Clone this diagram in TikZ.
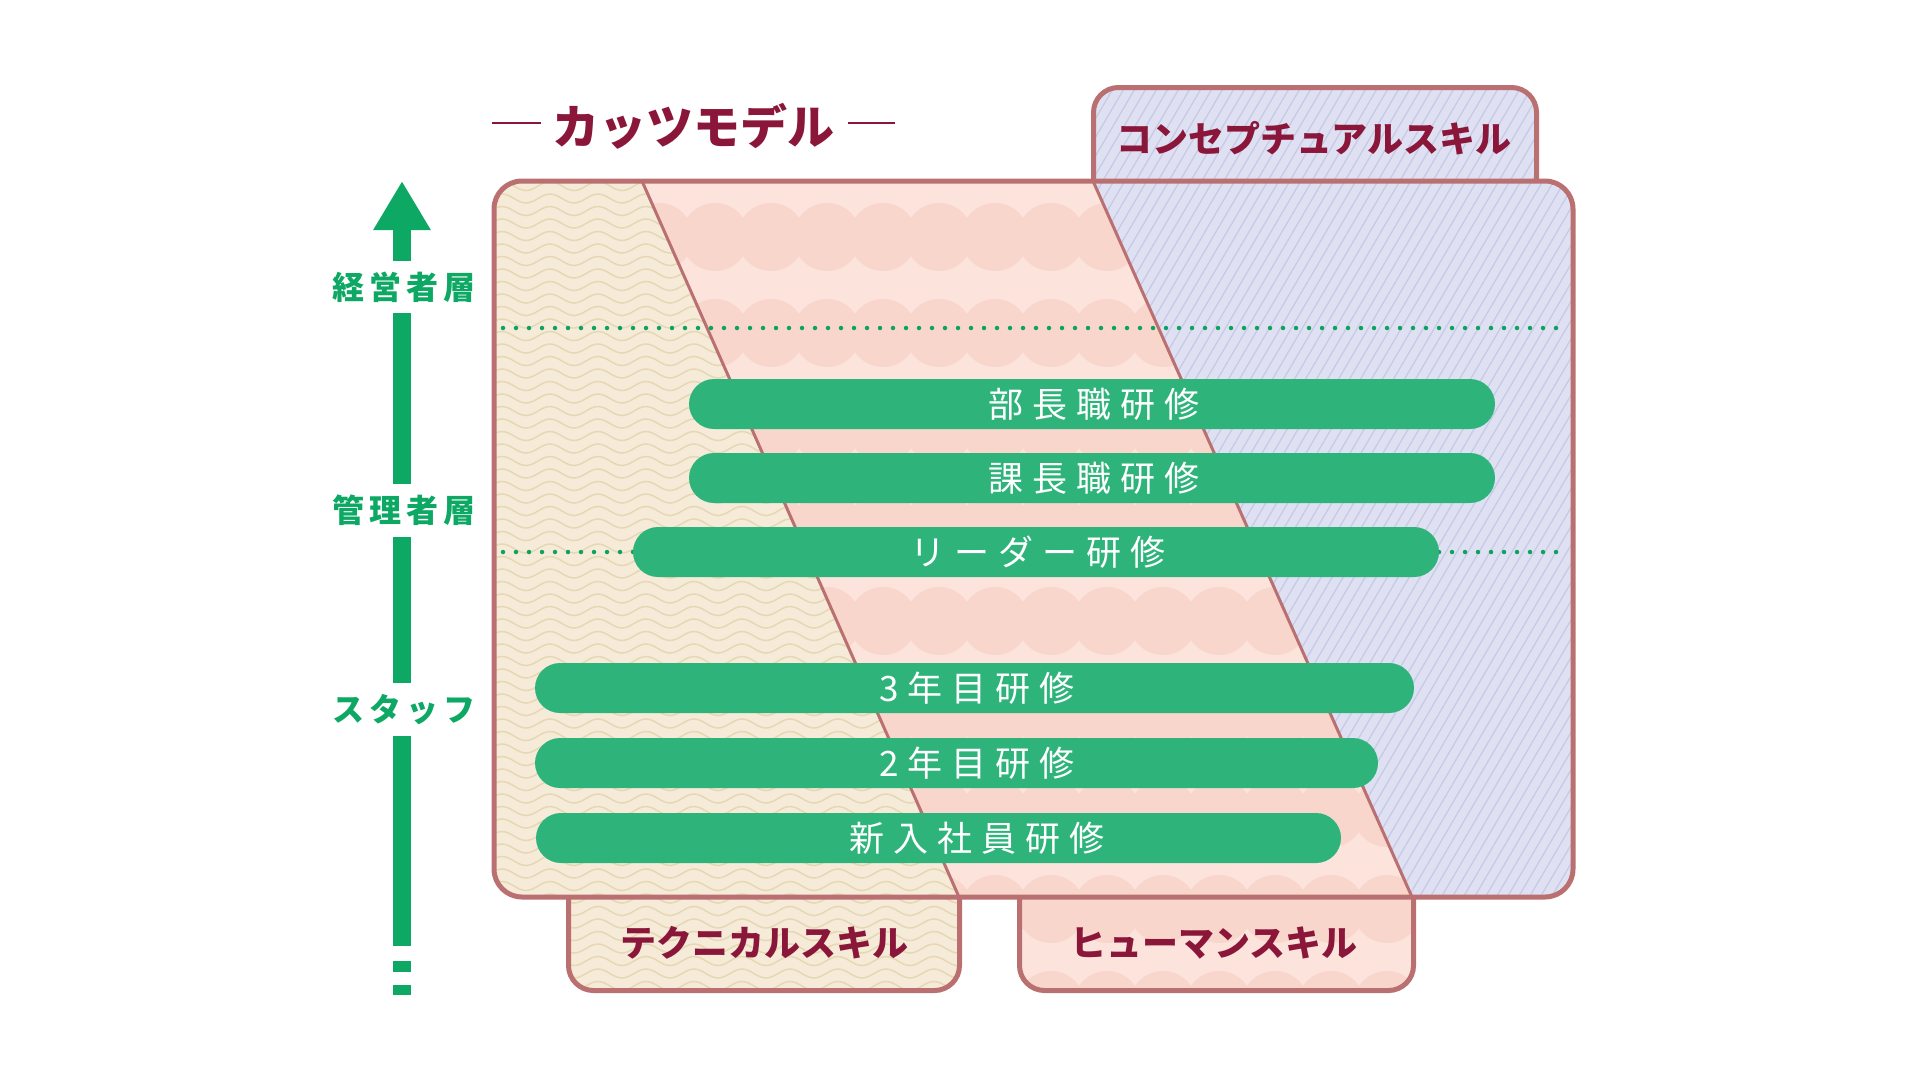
\documentclass[tikz,border=0pt]{standalone}
\usepackage{fontspec}
\usepackage{tikz}
\usetikzlibrary{positioning, arrows.meta}

\newfontfamily\jpfont{Noto Sans CJK JP}
\newfontfamily\jpspaced{Noto Sans CJK JP}[LetterSpace=26]
\newfontfamily\jplabel{Noto Sans CJK JP}[LetterSpace=15]

\definecolor{framebrown}{RGB}{186,112,112}
\definecolor{wine}{RGB}{138,22,58}
\definecolor{techbg}{RGB}{245,235,216}
\definecolor{techline}{RGB}{230,216,180}
\definecolor{humanbg}{RGB}{252,228,221}
\definecolor{humandot}{RGB}{249,214,204}
\definecolor{concbg}{RGB}{223,225,243}
\definecolor{concline}{RGB}{198,202,230}
\definecolor{barfill}{RGB}{46,180,123}
\definecolor{arrowgreen}{RGB}{14,168,101}
\definecolor{dotgreen}{RGB}{13,163,94}

\begin{document}
\begin{tikzpicture}[x=1pt, y=-1pt,
      outline/.style={draw=framebrown, line width=5pt},
      divider/.style={draw=framebrown, line width=3pt},
      wave/.style={draw=techline, line width=1.5pt},
      stripe/.style={draw=concline, line width=1.3pt},
      dotline/.style={draw=dotgreen, line width=4.5pt, line cap=round, dash pattern=on 0pt off 13pt},
      bar/.style={fill=barfill, rounded corners=25pt},
      bartext/.style={text=white, inner sep=0pt, font=\jpspaced\fontsize{35}{35}\selectfont},
      skill/.style={text=wine, inner sep=0pt, font=\jpfont\bfseries\fontsize{36}{36}\selectfont},
      tier/.style={text=arrowgreen, inner sep=0pt, minimum height=52pt, font=\jplabel\bfseries\fontsize{32}{32}\selectfont},
      shaft/.style={draw=arrowgreen, line width=18pt},
      titledash/.style={draw=wine, line width=2pt}
    ]
    \useasboundingbox (0,0) rectangle (1920,1080);

    % --- divider end points ---
    \coordinate (d1top) at (642,181);
    \coordinate (d1bot) at (959,897);
    \coordinate (d2top) at (1093,181);
    \coordinate (d2bot) at (1412,897);

    % --- coloured areas (main box + the three tabs) ---
    \begin{scope}
      \clip[rounded corners=25pt] (494,181) rectangle (1573,897)
            (568.5,860) rectangle (959.5,990.5)
            (1019.5,860) rectangle (1413.5,990.5)
            (1093.5,87.5) rectangle (1536.5,220);
      % technical: waves
      \begin{scope}
        \clip (450,70) -- (593,70) -- (1009,1010) -- (450,1010) -- cycle;
        \fill[techbg] (450,70) rectangle (1100,1010);
        \foreach \y in {186,198.5,...,1000} {
          \draw[wave] (490,\y) \foreach \k in {1,...,11} {
            sin ++(12,-4.5) cos ++(12,4.5) sin ++(12,4.5) cos ++(12,-4.5) };
        }
      \end{scope}
      % human: scallops
      \begin{scope}
        \clip (593,70) -- (1043.5,70) -- (1462,1010) -- (1009,1010) -- cycle;
        \fill[humanbg] (580,70) rectangle (1480,1010);
        \foreach \r in {0,...,8} {
          \foreach \c in {0,...,15} {
            \fill[humandot] (603+56*\c,237+96*\r) circle (34);
          }
        }
      \end{scope}
      % conceptual: stripes
      \begin{scope}
        \clip (1043.5,70) -- (1600,70) -- (1600,1010) -- (1462,1010) -- cycle;
        \fill[concbg] (1040,70) rectangle (1600,1010);
        \foreach \i in {0,...,99} {
          \draw[stripe] (495+11*\i,1010) -- ++(552,-940);
        }
      \end{scope}
    \end{scope}

    % --- frames ---
    \draw[outline, rounded corners=25pt] (568.5,897) -- (568.5,990.5) -- (959.5,990.5) -- (959.5,897);
    \draw[outline, rounded corners=25pt] (1019.5,897) -- (1019.5,990.5) -- (1413.5,990.5) -- (1413.5,897);
    \draw[outline, rounded corners=25pt] (1093.5,181) -- (1093.5,87.5) -- (1536.5,87.5) -- (1536.5,181);
    \draw[outline, rounded corners=28pt] (494,181) rectangle (1573,897);
    \draw[divider] (d1top) -- (d1bot);
    \draw[divider] (d2top) -- (d2bot);

    % --- level borders ---
    \draw[dotline] (503,328) -- (1567,328);
    \draw[dotline] (503,552) -- (1567,552);

    % --- training bars ---
    \foreach \n/\xa/\xb/\yc/\xt/\txt in {
        buchou/689/1495/404/1094/部長職研修,
        kachou/689/1495/478/1094/課長職研修,
        leader/633/1439/552/1038/リーダー研修,
        third/535/1414/688/977/3年目研修,
        second/535/1378/763/977/2年目研修,
        newhire/536/1341/838/977/新入社員研修} {
      \fill[bar] (\xa,\yc-25) rectangle (\xb,\yc+25);
      \node[bartext] (\n) at (\xt,\yc) {\txt};
    }

    % --- title and skill labels ---
    \node[text=wine, inner sep=0pt, font=\jpfont\bfseries\fontsize{47}{47}\selectfont] (title) at (693,126) {カッツモデル};
    \draw[titledash] ([xshift=-11pt, yshift=3pt]title.west) -- ++(-49,0);
    \draw[titledash] ([xshift=14pt, yshift=3pt]title.east) -- ++(47,0);
    \node[skill] (concept) at (1314,138) {コンセプチュアルスキル};
    \node[skill] (technical) at (764,943) {テクニカルスキル};
    \node[skill] (human) at (1214,943) {ヒューマンスキル};

    % --- level arrow ---
    \node[tier] (exec) at (404,287) {経営者層};
    \node[tier] (manager) at (404,510.5) {管理者層};
    \node[tier] (staff) at (404,709.5) {スタッフ};
    \coordinate (tip) at (402,181);
    \coordinate (tail) at (402,995);
    \draw[shaft, -{Triangle[width=54pt, length=49pt]}] (exec.north -| tip) -- (tip);
    \draw[shaft] (exec.south -| tip) -- (manager.north -| tip);
    \draw[shaft] (manager.south -| tip) -- (staff.north -| tip);
    \draw[shaft, dash pattern=on 210pt off 15pt on 11pt off 13pt on 11pt off 100pt] (staff.south -| tip) -- (tail);

  \end{tikzpicture}
\end{document}
